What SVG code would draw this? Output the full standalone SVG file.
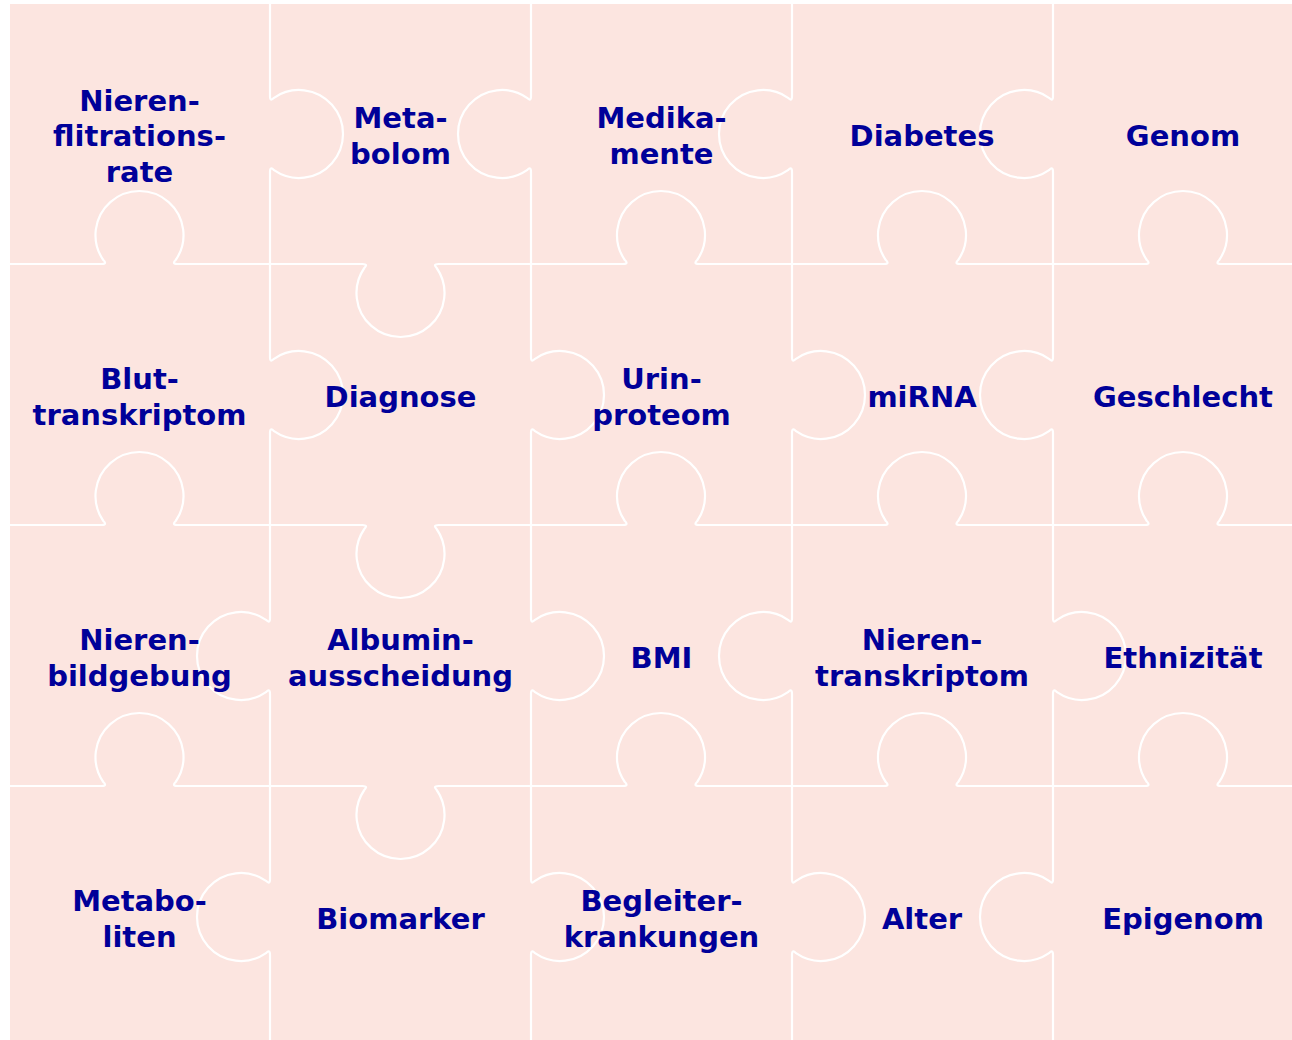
<svg xmlns="http://www.w3.org/2000/svg" width="1292" height="1040" viewBox="0 0 1292 1040">
<style>
.bg{fill:#FCE5E0}
.edge{fill:none;stroke:#FFFFFF;stroke-width:2.2;stroke-linejoin:round;stroke-linecap:round}
.lbl{font-family:"DejaVu Sans","Liberation Sans",sans-serif;font-weight:bold;font-size:29px;fill:#000099;text-anchor:middle}
</style>
<rect x="0" y="0" width="1292" height="1040" fill="#FFFFFF"/>
<rect class="bg" x="10" y="4" width="1282" height="1036"/>
<g id="connectors">
<path class="edge" d="M 10 264 H 101.5 Q 107.5 264 103.3 260 A 44 44 0 1 1 175.7 260 Q 171.5 264 177.5 264 H 362.5 Q 368.5 264 364.3 268 A 44 44 0 1 0 436.7 268 Q 432.5 264 438.5 264 H 623 Q 629 264 624.8 260 A 44 44 0 1 1 697.2 260 Q 693 264 699 264 H 884 Q 890 264 885.8 260 A 44 44 0 1 1 958.2 260 Q 954 264 960 264 H 1145 Q 1151 264 1146.8 260 A 44 44 0 1 1 1219.2 260 Q 1215 264 1221 264 H 1292"/>
<path class="edge" d="M 10 525 H 101.5 Q 107.5 525 103.3 521 A 44 44 0 1 1 175.7 521 Q 171.5 525 177.5 525 H 362.5 Q 368.5 525 364.3 529 A 44 44 0 1 0 436.7 529 Q 432.5 525 438.5 525 H 623 Q 629 525 624.8 521 A 44 44 0 1 1 697.2 521 Q 693 525 699 525 H 884 Q 890 525 885.8 521 A 44 44 0 1 1 958.2 521 Q 954 525 960 525 H 1145 Q 1151 525 1146.8 521 A 44 44 0 1 1 1219.2 521 Q 1215 525 1221 525 H 1292"/>
<path class="edge" d="M 10 786 H 101.5 Q 107.5 786 103.3 782 A 44 44 0 1 1 175.7 782 Q 171.5 786 177.5 786 H 362.5 Q 368.5 786 364.3 790 A 44 44 0 1 0 436.7 790 Q 432.5 786 438.5 786 H 623 Q 629 786 624.8 782 A 44 44 0 1 1 697.2 782 Q 693 786 699 786 H 884 Q 890 786 885.8 782 A 44 44 0 1 1 958.2 782 Q 954 786 960 786 H 1145 Q 1151 786 1146.8 782 A 44 44 0 1 1 1219.2 782 Q 1215 786 1221 786 H 1292"/>
<path class="edge" d="M 270 4 V 96 Q 270 102 274 97.8 A 44 44 0 1 1 274 170.2 Q 270 166 270 172 V 357 Q 270 363 274 358.8 A 44 44 0 1 1 274 431.2 Q 270 427 270 433 V 618 Q 270 624 266 619.8 A 44 44 0 1 0 266 692.2 Q 270 688 270 694 V 879 Q 270 885 266 880.8 A 44 44 0 1 0 266 953.2 Q 270 949 270 955 V 1040"/>
<path class="edge" d="M 531 4 V 96 Q 531 102 527 97.8 A 44 44 0 1 0 527 170.2 Q 531 166 531 172 V 357 Q 531 363 535 358.8 A 44 44 0 1 1 535 431.2 Q 531 427 531 433 V 618 Q 531 624 535 619.8 A 44 44 0 1 1 535 692.2 Q 531 688 531 694 V 879 Q 531 885 535 880.8 A 44 44 0 1 1 535 953.2 Q 531 949 531 955 V 1040"/>
<path class="edge" d="M 792 4 V 96 Q 792 102 788 97.8 A 44 44 0 1 0 788 170.2 Q 792 166 792 172 V 357 Q 792 363 796 358.8 A 44 44 0 1 1 796 431.2 Q 792 427 792 433 V 618 Q 792 624 788 619.8 A 44 44 0 1 0 788 692.2 Q 792 688 792 694 V 879 Q 792 885 796 880.8 A 44 44 0 1 1 796 953.2 Q 792 949 792 955 V 1040"/>
<path class="edge" d="M 1053 4 V 96 Q 1053 102 1049 97.8 A 44 44 0 1 0 1049 170.2 Q 1053 166 1053 172 V 357 Q 1053 363 1049 358.8 A 44 44 0 1 0 1049 431.2 Q 1053 427 1053 433 V 618 Q 1053 624 1057 619.8 A 44 44 0 1 1 1057 692.2 Q 1053 688 1053 694 V 879 Q 1053 885 1049 880.8 A 44 44 0 1 0 1049 953.2 Q 1053 949 1053 955 V 1040"/>
</g>
<g id="node-nierenfiltrationsrate"><text class="lbl"><tspan x="139.5" y="110.5">Nieren-</tspan><tspan x="139.5" y="146">flitrations-</tspan><tspan x="139.5" y="181.5">rate</tspan></text></g>
<g id="node-metabolom"><text class="lbl"><tspan x="400.5" y="128.25">Meta-</tspan><tspan x="400.5" y="163.75">bolom</tspan></text></g>
<g id="node-medikamente"><text class="lbl"><tspan x="661.5" y="128.25">Medika-</tspan><tspan x="661.5" y="163.75">mente</tspan></text></g>
<g id="node-diabetes"><text class="lbl" x="922" y="146">Diabetes</text></g>
<g id="node-genom"><text class="lbl" x="1183" y="146">Genom</text></g>
<g id="node-bluttranskriptom"><text class="lbl"><tspan x="139.5" y="389.25">Blut-</tspan><tspan x="139.5" y="424.75">transkriptom</tspan></text></g>
<g id="node-diagnose"><text class="lbl" x="400.5" y="407">Diagnose</text></g>
<g id="node-urinproteom"><text class="lbl"><tspan x="661.5" y="389.25">Urin-</tspan><tspan x="661.5" y="424.75">proteom</tspan></text></g>
<g id="node-mirna"><text class="lbl" x="922" y="407">miRNA</text></g>
<g id="node-geschlecht"><text class="lbl" x="1183" y="407">Geschlecht</text></g>
<g id="node-nierenbildgebung"><text class="lbl"><tspan x="139.5" y="650.25">Nieren-</tspan><tspan x="139.5" y="685.75">bildgebung</tspan></text></g>
<g id="node-albuminausscheidung"><text class="lbl"><tspan x="400.5" y="650.25">Albumin-</tspan><tspan x="400.5" y="685.75">ausscheidung</tspan></text></g>
<g id="node-bmi"><text class="lbl" x="661.5" y="668">BMI</text></g>
<g id="node-nierentranskriptom"><text class="lbl"><tspan x="922" y="650.25">Nieren-</tspan><tspan x="922" y="685.75">transkriptom</tspan></text></g>
<g id="node-ethnizitaet"><text class="lbl" x="1183" y="668">Ethnizität</text></g>
<g id="node-metaboliten"><text class="lbl"><tspan x="139.5" y="911.25">Metabo-</tspan><tspan x="139.5" y="946.75">liten</tspan></text></g>
<g id="node-biomarker"><text class="lbl" x="400.5" y="929">Biomarker</text></g>
<g id="node-begleiterkrankungen"><text class="lbl"><tspan x="661.5" y="911.25">Begleiter-</tspan><tspan x="661.5" y="946.75">krankungen</tspan></text></g>
<g id="node-alter"><text class="lbl" x="922" y="929">Alter</text></g>
<g id="node-epigenom"><text class="lbl" x="1183" y="929">Epigenom</text></g>
</svg>
